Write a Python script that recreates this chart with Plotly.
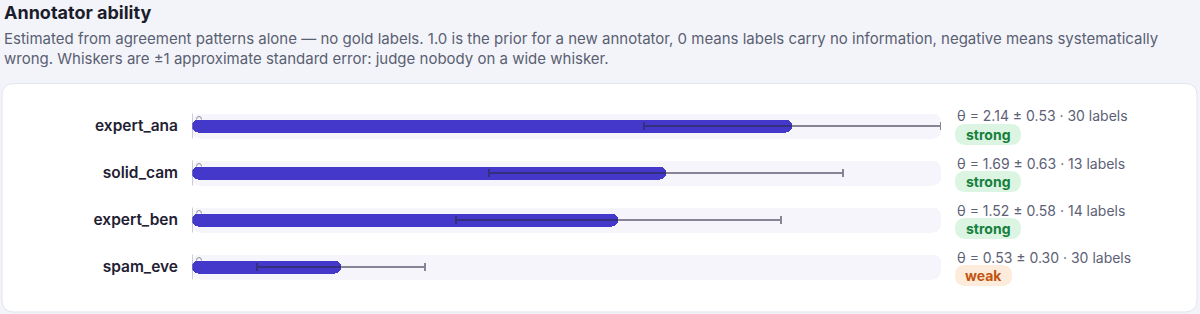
import plotly.graph_objects as go

# ---------------- data ----------------
annotators = ["expert_ana", "solid_cam", "expert_ben", "spam_eve"]
theta = [2.14, 1.69, 1.52, 0.53]
stderr = [0.53, 0.63, 0.58, 0.30]
n_labels = [30, 13, 14, 30]
tier = ["strong", "strong", "strong", "weak"]

TITLE = "Annotator ability"
SUBTITLE = ("Estimated from agreement patterns alone — no gold labels. 1.0 is the prior for a new annotator, "
            "0 means labels carry no information, negative means systematically<br>"
            "wrong. Whiskers are ±1 approximate standard error: judge nobody on a wide whisker.")

# ---------------- layout constants ----------------
W, H = 1200, 314
PLOT_L, PLOT_R = 192, 941
ROW_TOP, ROW_H = 102.5, 47
N = len(annotators)
ROW_BOTTOM = ROW_TOP + N * ROW_H
FONT = "Inter, 'Noto Sans', sans-serif"

TIER_STYLE = {
    "strong": dict(fg="#16803c", bg="#dcf5e3", w=66),
    "weak": dict(fg="#c2540f", bg="#fdecdc", w=57),
}

xmax = max(t + s for t, s in zip(theta, stderr))


def px(x):
    return x / W


def py(y):
    return 1 - y / H


def rrect(x0, y0, x1, y1, r):
    def p(x, y):
        return f"{px(x):.6f},{py(y):.6f}"
    return (f"M {p(x0 + r, y0)} L {p(x1 - r, y0)} Q {p(x1, y0)} {p(x1, y0 + r)} "
            f"L {p(x1, y1 - r)} Q {p(x1, y1)} {p(x1 - r, y1)} "
            f"L {p(x0 + r, y1)} Q {p(x0, y1)} {p(x0, y1 - r)} "
            f"L {p(x0, y0 + r)} Q {p(x0, y0)} {p(x0 + r, y0)} Z")


fig = go.Figure()

# track backgrounds
fig.add_trace(go.Bar(
    y=annotators, x=[xmax] * N, orientation="h", base=0,
    width=25 / ROW_H, marker=dict(color="#f5f5fb", cornerradius=8, line=dict(width=0)),
    hoverinfo="skip", showlegend=False,
))

# value bars with whiskers
fig.add_trace(go.Bar(
    y=annotators, x=theta, orientation="h", base=0,
    width=13.5 / ROW_H,
    marker=dict(color="#4338ca", cornerradius=6, line=dict(width=0)),
    error_x=dict(type="data", array=stderr, visible=True,
                 color="rgba(40,40,66,0.55)", thickness=2, width=4),
    showlegend=False,
))

shapes = []
annotations = []

# card
shapes.append(dict(type="path", xref="paper", yref="paper", layer="below",
                   path=rrect(2, 83.5, 1197, 312, 12),
                   fillcolor="#ffffff", line=dict(color="#e3e5ee", width=1)))

for i, (name, t, s, n, tr) in enumerate(zip(annotators, theta, stderr, n_labels, tier)):
    c = ROW_TOP + (i + 0.5) * ROW_H
    # zero line
    shapes.append(dict(type="line", xref="x", yref="paper", x0=0, x1=0,
                       y0=py(c - 12.5), y1=py(c + 12.5),
                       line=dict(color="#9a9aab", width=1)))
    # small arc marker at zero
    ax0, ax1, ay = PLOT_L + 4.5, PLOT_L + 9.5, c - 6.5
    shapes.append(dict(type="path", xref="paper", yref="paper",
                       path=(f"M {px(ax0):.6f},{py(ay):.6f} Q {px(ax0):.6f},{py(ay - 3):.6f} "
                             f"{px((ax0 + ax1) / 2):.6f},{py(ay - 3):.6f} Q {px(ax1):.6f},{py(ay - 3):.6f} "
                             f"{px(ax1):.6f},{py(ay):.6f}"),
                       line=dict(color="#8c8ca0", width=1)))
    # stats text
    annotations.append(dict(xref="paper", yref="paper", x=px(955), y=py(c - 10),
                            xanchor="left", yanchor="middle", showarrow=False,
                            text=f"θ = {t:.2f} ± {s:.2f} · {n} labels",
                            font=dict(family=FONT, size=14, color="#5c6176")))
    # pill
    st = TIER_STYLE[tr]
    pc = c + 8.5
    shapes.append(dict(type="path", xref="paper", yref="paper",
                       path=rrect(955, pc - 10.5, 955 + st["w"], pc + 10.5, 10.5),
                       fillcolor=st["bg"], line=dict(width=0)))
    annotations.append(dict(xref="paper", yref="paper", x=px(955 + st["w"] / 2), y=py(pc),
                            xanchor="center", yanchor="middle", showarrow=False,
                            text=tr, font=dict(family=FONT, size=14, color=st["fg"], weight=700)))

# title & subtitle
annotations.append(dict(xref="paper", yref="paper", x=px(2), y=py(13),
                        xanchor="left", yanchor="middle", showarrow=False, text=TITLE,
                        font=dict(family=FONT, size=18, color="#1b1d2c", weight=700)))
annotations.append(dict(xref="paper", yref="paper", x=px(2), y=py(26.5),
                        xanchor="left", yanchor="top", align="left", showarrow=False, text=SUBTITLE,
                        font=dict(family=FONT, size=15, color="#5a5f72")))

fig.update_layout(
    width=W, height=H,
    margin=dict(l=0, r=0, t=0, b=0),
    paper_bgcolor="#f3f4f9", plot_bgcolor="rgba(0,0,0,0)",
    barmode="overlay", bargap=0,
    showlegend=False,
    font=dict(family=FONT),
    xaxis=dict(domain=[px(PLOT_L), px(PLOT_R)], range=[0, xmax], visible=False, fixedrange=True),
    yaxis=dict(domain=[py(ROW_BOTTOM), py(ROW_TOP)], type="category",
               categoryorder="array", categoryarray=annotators,
               range=[N - 0.5, -0.5], showgrid=False, zeroline=False, showline=False,
               ticks="", ticklabelstandoff=13,
               tickfont=dict(family=FONT, size=15.5, color="#1f2133", weight=600),
               fixedrange=True),
    shapes=shapes,
    annotations=annotations,
)

fig.write_html("out.html")
